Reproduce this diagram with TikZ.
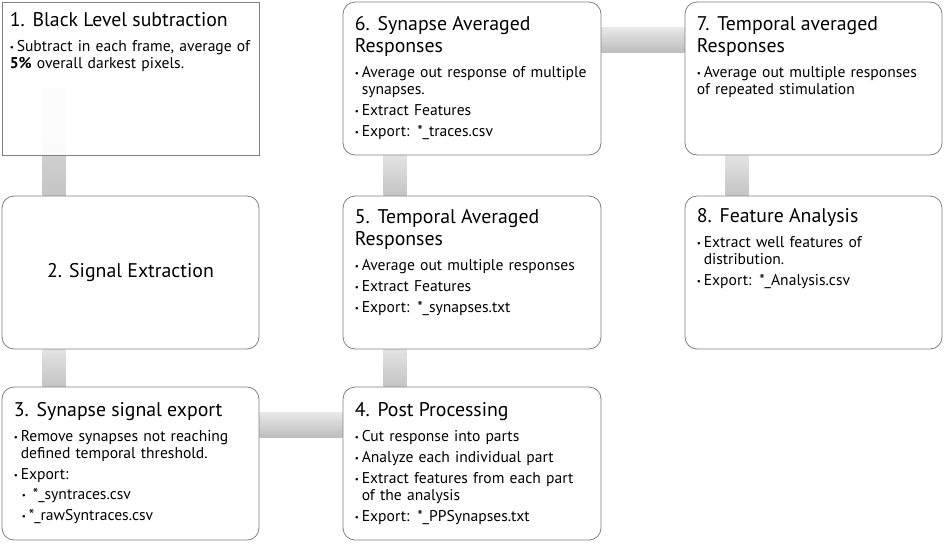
\documentclass[tikz,border=0pt]{standalone}
\usepackage{fontspec}
\setmainfont{PT Sans}
\usetikzlibrary{fit,backgrounds}
\newcommand\bodyfont{\fontsize{15.6}{16.5}\selectfont}
\newcommand\ttlfont{\fontsize{19.8}{22}\selectfont}
\newcommand\bul{\raisebox{0.8pt}{\fontsize{9}{9}\selectfont\textbullet}}
\newcommand\ttl[1]{{\ttlfont #1\par}\vspace{4pt}}
\newcommand\bitem[1]{\par\vspace{4.5pt}\hangindent=7pt\hangafter=1\noindent\makebox[7pt][l]{\bul}#1}
\newcommand\sitem[1]{\par\vspace{4pt}\hangindent=15pt\hangafter=1\noindent\hspace*{8pt}\makebox[7pt][l]{\bul}#1}

\begin{document}
\begin{tikzpicture}[x=1pt,y=-1pt,
	box/.style={draw=black!50, line width=0.8pt, fill=white, inner sep=0pt, rounded corners=12pt},
	sbox/.style={draw=black!50, line width=0.8pt, fill=white, fill opacity=0.93, inner sep=0pt},
	txt/.style={inner sep=0pt, text width=250pt, anchor=base west, font=\bodyfont, text=black},
	vbar/.style={top color=black!11, bottom color=black!23},
	hbar/.style={top color=black!9, bottom color=black!26}]
	\useasboundingbox (0,0) rectangle (944,544);
	\node[sbox, fit={(2,2) (259,155)}] (b1) {};
	\node[box, fit={(2,196) (259,349)}] (b2) {};
	\node[box, fit={(2,387) (259,540)}] (b3) {};
	\node[box, fit={(343,387) (601,540)}] (b4) {};
	\node[box, fit={(343,196) (601,349)}] (b5) {};
	\node[box, fit={(343,2) (601,155)}] (b6) {};
	\node[box, fit={(685,2) (942,155)}] (b7) {};
	\node[box, fit={(685,196) (942,349)}] (b8) {};

	\begin{scope}[on background layer]
		\shade[vbar] ([xshift=41pt,yshift=67pt]b1.south west) rectangle ([xshift=64pt]b2.north west);
		\shade[vbar] ([xshift=41pt]b2.south west) rectangle ([xshift=64pt]b3.north west);
		\shade[hbar] ([yshift=-26pt]b3.north east) rectangle ([yshift=-51pt]b4.north west);
		\shade[vbar] ([xshift=41pt]b5.south west) rectangle ([xshift=64pt]b4.north west);
		\shade[vbar] ([xshift=41pt]b6.south west) rectangle ([xshift=64pt]b5.north west);
		\shade[hbar] ([yshift=-26pt]b6.north east) rectangle ([yshift=-51pt]b7.north west);
		\shade[vbar] ([xshift=41pt]b7.south west) rectangle ([xshift=64pt]b8.north west);
	\end{scope}

	\node[txt] (t1) at ([xshift=8pt,yshift=-25pt]b1.north west) {\ttl{1. Black Level subtraction}
		\bitem{Subtract in each frame, average of\newline \textbf{5\%} overall darkest pixels.}};
	\node[font=\ttlfont, text=black] (t2) at (b2.center) {2. Signal Extraction};
	\node[txt] (t3) at ([xshift=12pt,yshift=-30pt]b3.north west) {\ttl{3. Synapse signal export}
		\bitem{Remove synapses not reaching\newline defined temporal threshold.}
		\bitem{Export:}
		\sitem{\hspace{4pt}*\_syntraces.csv}
		\sitem{*\_rawSyntraces.csv}};
	\node[txt] (t4) at ([xshift=12pt,yshift=-30pt]b4.north west) {\ttl{4. Post Processing}
		\bitem{Cut response into parts}
		\bitem{Analyze each individual part}
		\bitem{Extract features from each part\newline of the analysis}
		\bitem{Export: *\_PPSynapses.txt}};
	\node[txt] (t5) at ([xshift=12pt,yshift=-28pt]b5.north west) {\ttl{5. Temporal Averaged\newline Responses}
		\bitem{Average out multiple responses}
		\bitem{Extract Features}
		\bitem{Export: *\_synapses.txt}};
	\node[txt] (t6) at ([xshift=12pt,yshift=-29pt]b6.north west) {\ttl{6. Synapse Averaged\newline Responses}
		\bitem{Average out response of multiple\newline synapses.}
		\bitem{Extract Features}
		\bitem{Export: *\_traces.csv}};
	\node[txt] (t7) at ([xshift=12pt,yshift=-29pt]b7.north west) {\ttl{7. Temporal averaged\newline Responses}
		\bitem{Average out multiple responses\newline of repeated stimulation}};
	\node[txt] (t8) at ([xshift=12pt,yshift=-27pt]b8.north west) {\ttl{8. Feature Analysis}
		\bitem{Extract well features of\newline distribution.}
		\bitem{Export: *\_Analysis.csv}};
\end{tikzpicture}
\end{document}
